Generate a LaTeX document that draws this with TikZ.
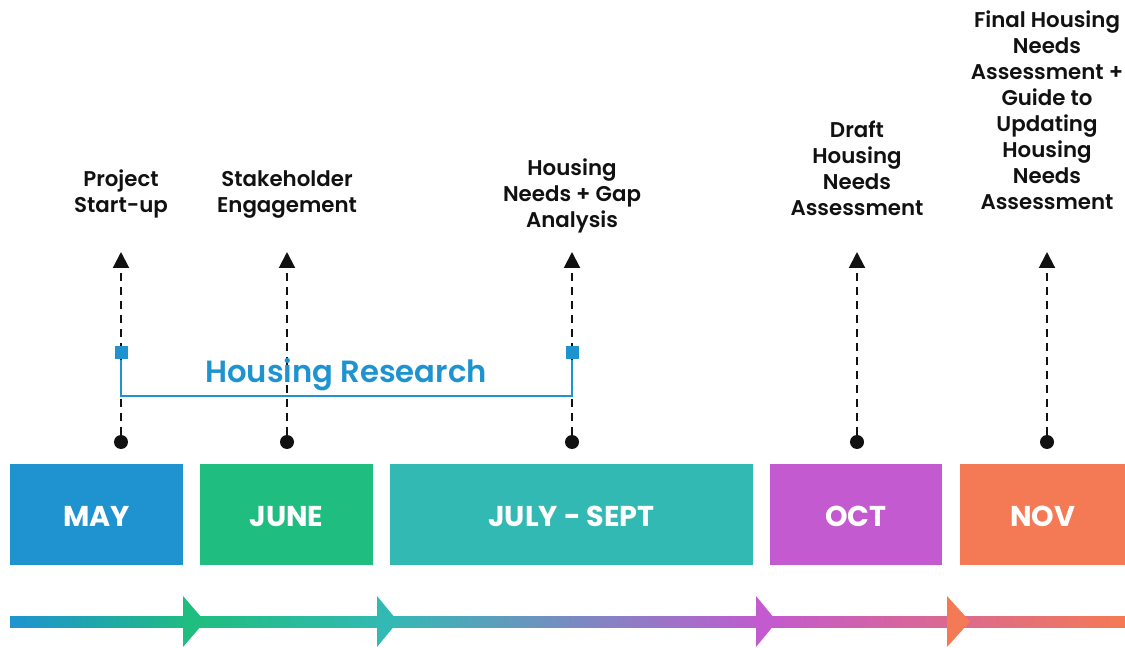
\documentclass[tikz,border=0pt]{standalone}
\usepackage{fontspec}
\setmainfont{Poppins}[BoldFont={Poppins SemiBold}]
\newfontfamily\monthfont{Poppins Bold}
\usetikzlibrary{arrows.meta}
\definecolor{cMay}{HTML}{1F93D0}
\definecolor{cJune}{HTML}{20BD80}
\definecolor{cJuly}{HTML}{33B9B4}
\definecolor{cOct}{HTML}{C35ACF}
\definecolor{cNov}{HTML}{F47A55}
\definecolor{cPink}{HTML}{DB6A8E}
\definecolor{ink}{HTML}{111111}
\newcommand\mlabel[1]{\raisebox{-9pt}[0pt][0pt]{#1}}
\begin{document}
\begin{tikzpicture}[x=0.75pt,y=-0.75pt,
  monthbox/.style={rectangle,inner sep=0pt,minimum height=75.75pt,text=white,
     font=\monthfont\fontsize{21.5}{26}\selectfont},
  msline/.style={ink,line width=1.5pt,dash pattern=on 6pt off 4.5pt,
     -{Triangle[width=12pt,length=12pt]}},
  dotnode/.style={circle,fill=ink,inner sep=0pt,minimum size=10.5pt},
  sqnode/.style={rectangle,fill=cMay,inner sep=0pt,minimum size=9.75pt},
  mstext/.style={align=center,text=ink,font=\bfseries\fontsize{16}{19.5}\selectfont},
  brk/.style={cMay,line width=1.5pt}]
\useasboundingbox (0,0) rectangle (1125,648);

% month boxes
\node[monthbox,fill=cMay,minimum width=129.75pt] (may) at (96.5,514.5) {\mlabel{MAY}};
\node[monthbox,fill=cJune,minimum width=129.75pt] (june) at (286.5,514.5) {\mlabel{JUNE}};
\node[monthbox,fill=cJuly,minimum width=272.25pt] (july) at (571.5,514.5) {\mlabel{JULY - SEPT}};
\node[monthbox,fill=cOct,minimum width=129pt] (oct) at (856,514.5) {\mlabel{OCT}};
\node[monthbox,fill=cNov,minimum width=123.75pt] (nov) at (1042.5,514.5) {\mlabel{NOV}};

% milestones
\foreach \n/\x in {a/121,b/287,c/572,d/857,e/1047}{
  \node[dotnode] (dot\n) at (\x,442) {};
  \coordinate (tip\n) at (\x,252);
  \draw[msline] (dot\n) -- (tip\n);
}

% labels
\node[mstext,anchor=south] (la) at (121,223) {Project\\Start-up};
\node[mstext,anchor=south] (lb) at (287,223) {Stakeholder\\Engagement};
\node[mstext,anchor=south] (lc) at (572,238) {Housing\\Needs + Gap\\Analysis};
\node[mstext,anchor=south] (ld) at (857,220) {Draft\\Housing\\Needs\\Assessment};
\node[mstext,anchor=south] (le) at (1047,214) {Final Housing\\Needs\\Assessment +\\Guide to\\Updating\\Housing\\Needs\\Assessment};

% housing research bracket
\node[sqnode] (sqa) at (121,353) {};
\node[sqnode] (sqc) at (572,353) {};
\coordinate (brkline) at (0,396);
\draw[brk] (sqa.south) -- (sqa.south |- brkline) -- (sqc.south |- brkline) -- (sqc.south);
\node[text=cMay,font=\bfseries\fontsize{23}{27}\selectfont] (hr) at (346,375) {Housing Research};

% bottom gradient bar
\shade[left color=cMay,right color=cJune] (10,616) rectangle (195.5,627);
\shade[left color=cJune,right color=cJuly] (195,616) rectangle (390.5,627);
\shade[left color=cJuly,right color=cOct] (390,616) rectangle (765.5,627);
\shade[left color=cOct,right color=cPink] (765,616) rectangle (955.5,627);
\shade[left color=cPink,right color=cNov] (955,616) rectangle (1125,627);
\fill[cJune] (183,596) -- (205,621.5) -- (183,647) -- cycle;
\fill[cJuly] (377,596) -- (398,621.5) -- (377,647) -- cycle;
\fill[cOct] (756,596) -- (777,621.5) -- (756,647) -- cycle;
\fill[cNov] (947,596) -- (970,621.5) -- (947,647) -- cycle;
\end{tikzpicture}
\end{document}
